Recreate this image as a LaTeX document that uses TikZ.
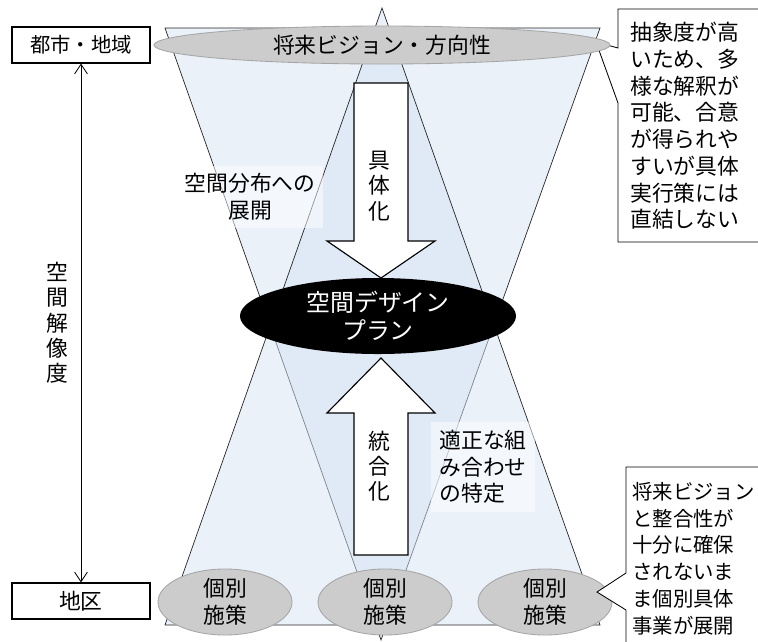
\documentclass[tikz,border=0pt]{standalone}
\usepackage{fontspec}
\setmainfont{Noto Sans CJK JP}
\usepackage{tikz}
\usetikzlibrary{arrows.meta,shapes.geometric}
\newcommand{\boxwidth}{3.45cm}
\newcommand{\boxheight}{0.9cm}
\definecolor{triBlue}{RGB}{214,227,243}
\definecolor{ovalGray}{RGB}{204,204,204}
\definecolor{ovalEdge}{RGB}{165,165,165}
\tikzset{
  >={Straight Barb[length=2.4mm,width=3.2mm]},
  font=\fontsize{15.5}{19}\selectfont,
  tri/.style={draw=black!85,line width=0.5pt,fill=triBlue,fill opacity=0.5},
  level/.style={draw,line width=0.8pt,fill=white,shape=rectangle,minimum width=\boxwidth,minimum height=\boxheight,inner sep=0},
  oval/.style={draw=ovalEdge,line width=0.6pt,fill=ovalGray,shape=ellipse,inner sep=0,align=center},
  core/.style={fill=black,text=white,shape=ellipse,inner sep=0,align=center,font=\fontsize{17}{20}\selectfont},
  blockarrow/.style={draw,line width=0.8pt,fill=white,line join=miter},
  note/.style={draw,line width=0.6pt,fill=white,line join=miter},
  notetext/.style={anchor=north west,align=left,inner sep=0},
  label/.style={fill=white,fill opacity=0.5,text opacity=1,inner sep=2mm},
  stack/.style={align=center,inner sep=0,font=\fontsize{15.5}{18}\selectfont},
}
\begin{document}
\begin{tikzpicture}[x=0.025cm,y=-0.025cm]
  \useasboundingbox (0,0) rectangle (758,641);
  % two crossing triangles
  \path [tri] (165,28) -- (600,28) -- (381,640) -- cycle;
  \path [tri] (382,8) -- (600,625) -- (165,625) -- cycle;
  % resolution axis
  \node (city) [level,font=\fontsize{14.5}{17}\selectfont] at (81,45) {都市・地域};
  \node (district) [level] at (81,601) {地区};
  \draw [<->,line width=0.6pt] (city) -- (district) node[midway,left=0.3cm,stack]{空\\間\\解\\像\\度};
  % callout for the vision
  \draw [note] (596,42) -- (618,48) -- (618,9) -- (775,9) -- (775,242) -- (618,242) -- (618,103) -- cycle;
  \node (abstract) [notetext] at (630,22) {抽象度が高\\いため、多\\様な解釈が\\可能、合意\\が得られや\\すいが具体\\実行策には\\直結しない};
  % vision
  \node (vision) [oval,minimum width=11.4cm,minimum height=0.95cm] at (382,45) {将来ビジョン・方向性};
  % block arrows
  \path [blockarrow] (354,83) -- (408,83) -- (408,241) -- (435,241) -- (381,278) -- (327,241) -- (354,241) -- cycle;
  \path [blockarrow] (354,555) -- (408,555) -- (408,413) -- (435,413) -- (381,358) -- (327,413) -- (354,413) -- cycle;
  \node (concrete) [stack] at (379,186) {具\\体\\化};
  \node (integrate) [stack] at (379,466) {統\\合\\化};
  % plan
  \node (plan) [core,minimum width=6.9cm,minimum height=1.9cm] at (378,316) {空間デザイン\\プラン};
  % labels
  \node (spread) [label,align=center] at (250,197) {空間分布への\\展開};
  \node (combo) [label,align=left] at (483,467) {適正な組\\み合わせ\\の特定};
  % individual measures
  \node (m1) [oval,minimum width=3.35cm,minimum height=1.65cm] at (225,602) {個別\\施策};
  \node (m2) [oval,minimum width=3.35cm,minimum height=1.65cm] at (385,602) {個別\\施策};
  \node (m3) [oval,minimum width=3.35cm,minimum height=1.65cm] at (545,602) {個別\\施策};
  % callout for the measures
  \draw [note] (597,592) -- (626,573) -- (626,467) -- (775,467) -- (775,660) -- (626,660) -- (626,610) -- cycle;
  \node (gap) [notetext,font=\fontsize{14.5}{19}\selectfont] at (632,482) {将来ビジョン\\と整合性が\\十分に確保\\されないま\\ま個別具体\\事業が展開};
\end{tikzpicture}
\end{document}
